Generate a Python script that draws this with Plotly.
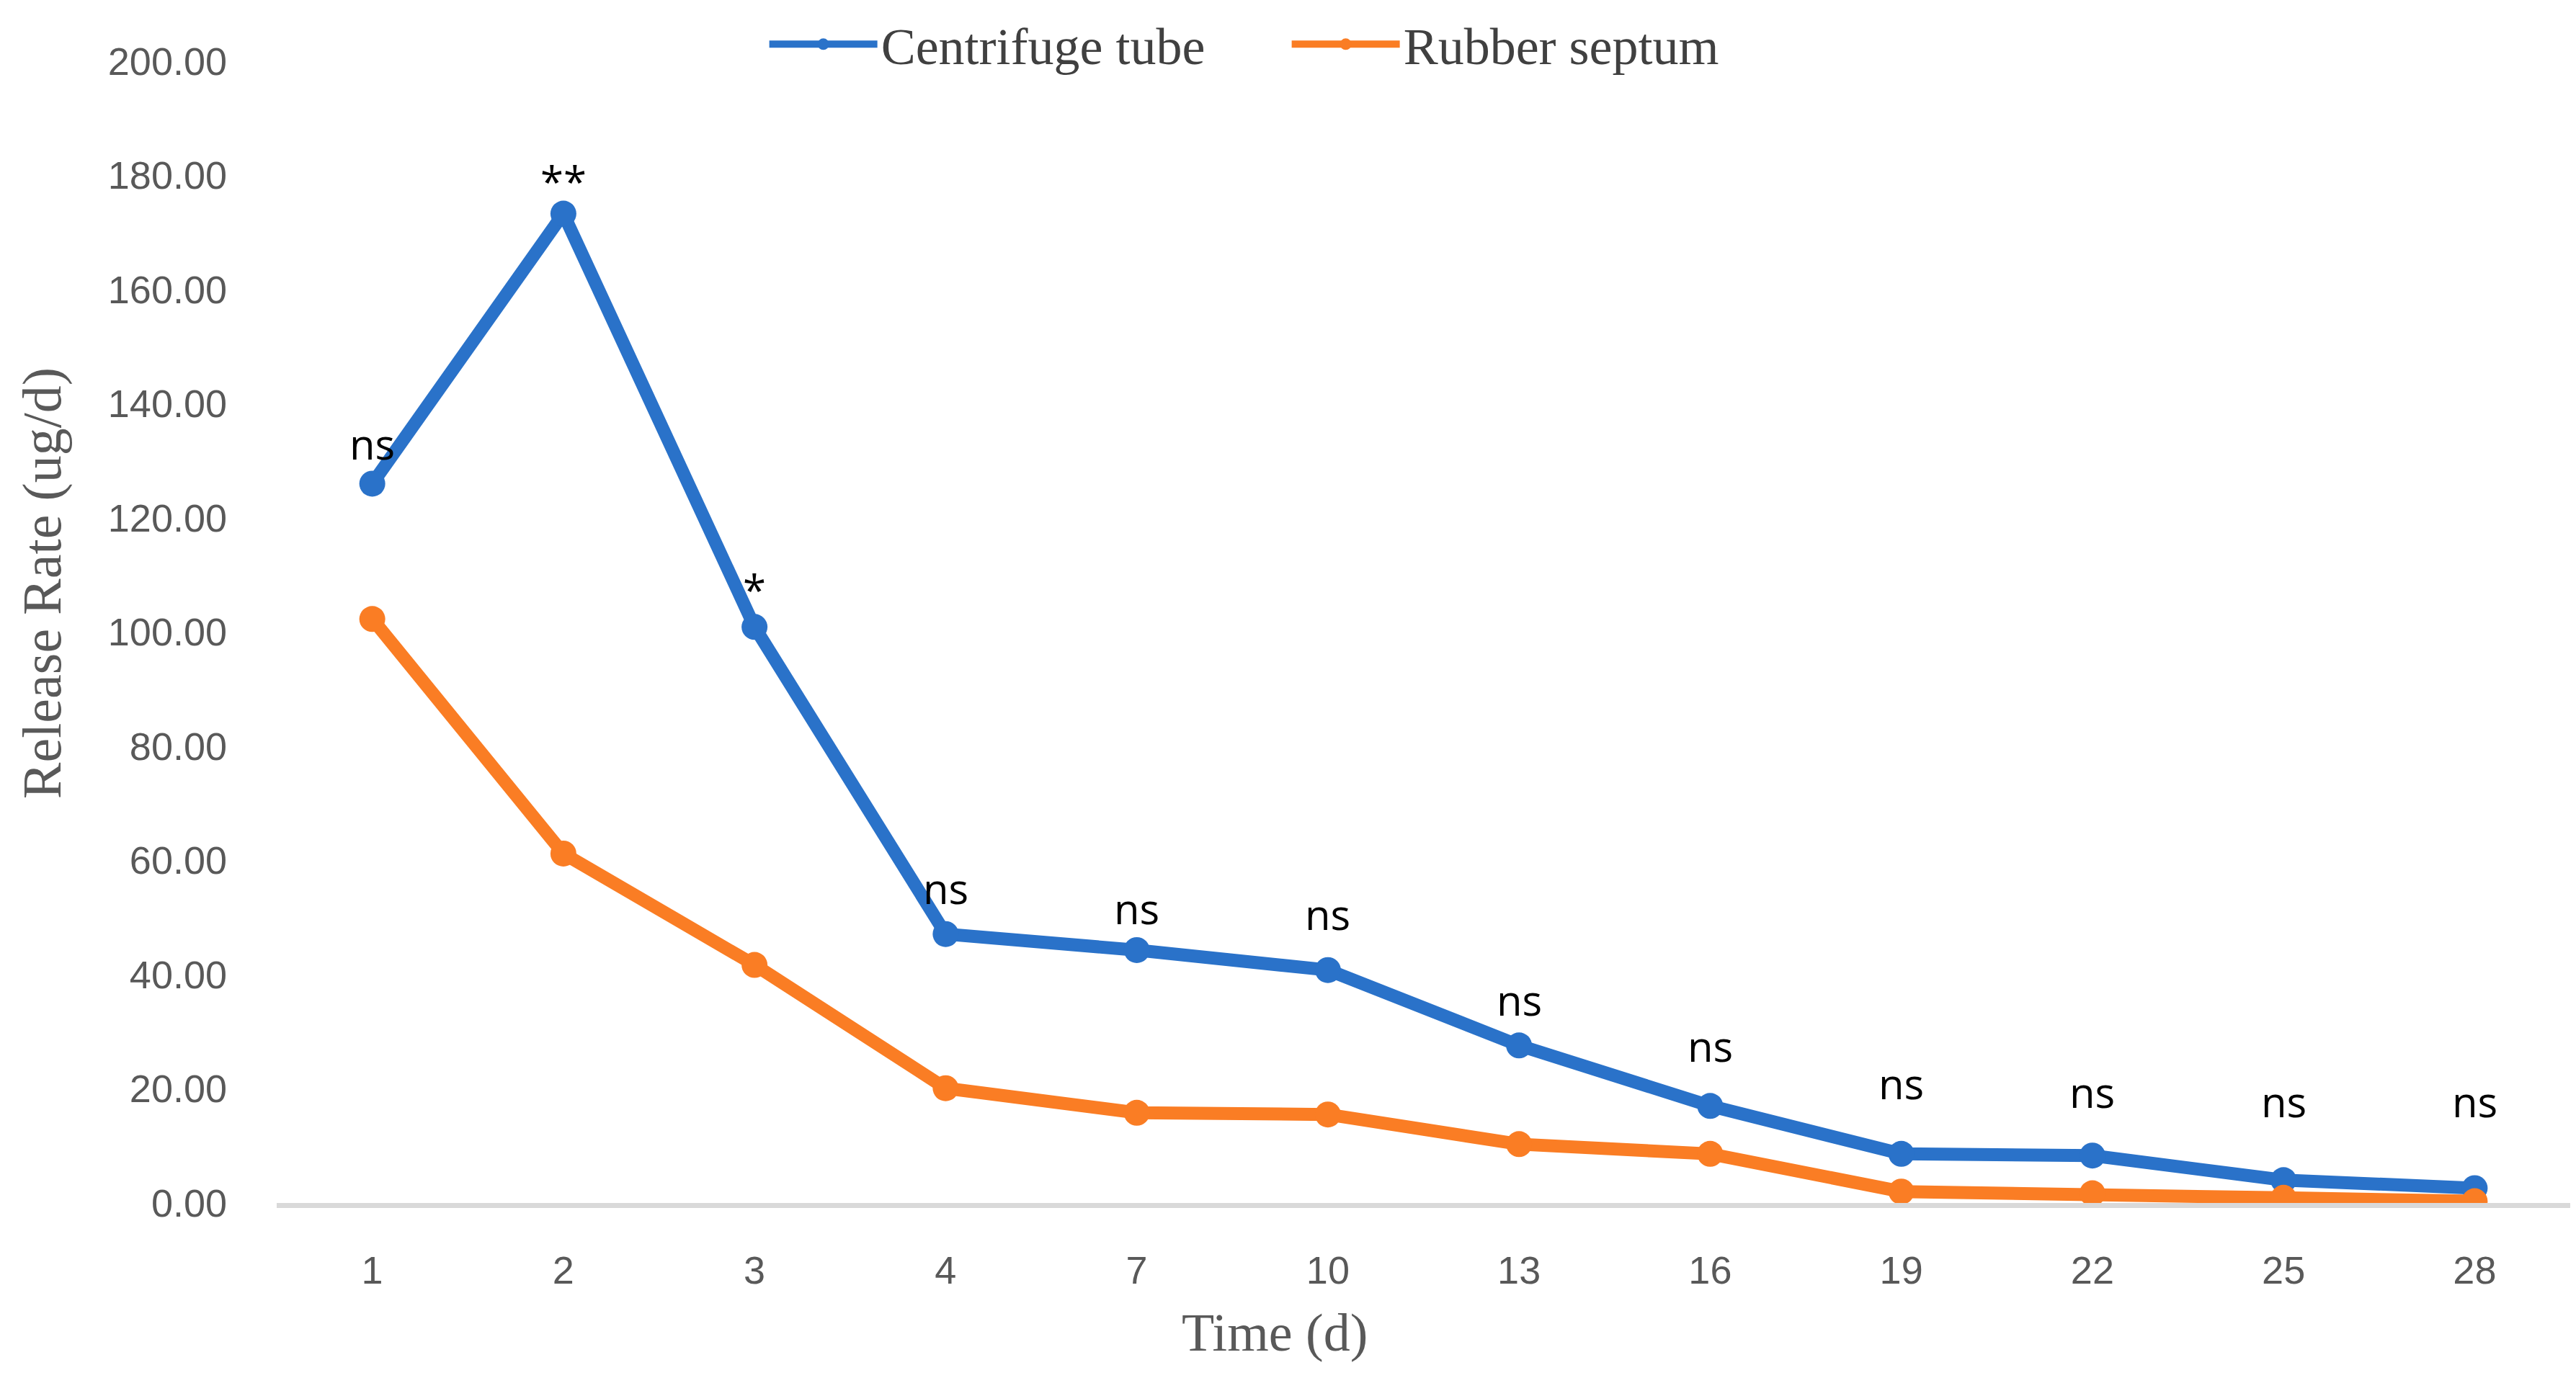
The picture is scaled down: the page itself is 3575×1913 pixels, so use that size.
import plotly.graph_objects as go

days = ["1", "2", "3", "4", "7", "10", "13", "16", "19", "22", "25", "28"]
centrifuge_tube = [126.0, 173.3, 100.9, 47.1, 44.3, 40.8, 27.6, 17.0, 8.6, 8.3, 4.0, 2.6]
rubber_septum = [102.3, 61.2, 41.7, 20.1, 15.8, 15.5, 10.3, 8.6, 2.0, 1.7, 0.9, 0.3]
sig_labels = ["ns", "**", "*", "ns", "ns", "ns", "ns", "ns", "ns", "ns", "ns", "ns"]
sig_label_y = [133.0, 179.0, 107.5, 55.2, 51.7, 50.6, 35.6, 27.6, 21.0, 19.5, 17.8, 17.8]
y_ticks = [0, 20, 40, 60, 80, 100, 120, 140, 160, 180, 200]

BLUE = "#2a72c9"
ORANGE = "#fa7d24"

fig = go.Figure()
fig.add_trace(go.Scatter(
    x=days, y=centrifuge_tube, name="Centrifuge tube", mode="lines+markers",
    line=dict(color=BLUE, width=18), marker=dict(color=BLUE, size=36),
))
fig.add_trace(go.Scatter(
    x=days, y=rubber_septum, name="Rubber septum", mode="lines+markers",
    line=dict(color=ORANGE, width=18), marker=dict(color=ORANGE, size=36),
))

for i, (lab, yy) in enumerate(zip(sig_labels, sig_label_y)):
    fig.add_annotation(
        x=i, y=yy, xref="x", yref="y", text=lab, showarrow=False,
        yanchor="middle", xanchor="center",
        font=dict(family="Open Sans, Noto Sans, sans-serif", size=58, color="#000000"),
    )

fig.add_annotation(
    x=0.435, y=-0.1134, xref="paper", yref="paper", text="Time (d)", showarrow=False,
    xanchor="center", yanchor="middle",
    font=dict(family="Liberation Serif, Times New Roman, serif", size=74, color="#595959"),
)
fig.add_annotation(
    x=-0.1024, y=0.5425, xref="paper", yref="paper", text="Release Rate (ug/d)", showarrow=False,
    xanchor="center", yanchor="middle", textangle=-90,
    font=dict(family="Liberation Serif, Times New Roman, serif", size=76, color="#595959"),
)

fig.update_layout(
    width=3575, height=1913,
    margin=dict(l=376, r=16, t=77, b=251, autoexpand=False),
    paper_bgcolor="white", plot_bgcolor="white",
    showlegend=True,
    legend=dict(
        orientation="h", xref="container", yref="container",
        x=0.295, y=0.972, xanchor="left", yanchor="middle",
        font=dict(family="Liberation Serif, Times New Roman, serif", size=72, color="#404040"),
        itemwidth=150, entrywidth=560, bgcolor="rgba(0,0,0,0)",
    ),
    xaxis=dict(
        type="category", range=[-0.5, 11.5], showgrid=False, zeroline=False,
        showline=True, linecolor="#d9d9d9", linewidth=7, ticks="",
        ticklabelstandoff=40,
        tickfont=dict(family="Liberation Sans, Arial, sans-serif", size=54, color="#595959"),
    ),
    yaxis=dict(
        range=[0, 200], tickvals=y_ticks, ticktext=[f"{v:.2f}" for v in y_ticks],
        showgrid=False, zeroline=False, showline=False, ticks="",
        ticklabelstandoff=68,
        tickfont=dict(family="Liberation Sans, Arial, sans-serif", size=54, color="#595959"),
    ),
)

fig.write_html("out.html")
